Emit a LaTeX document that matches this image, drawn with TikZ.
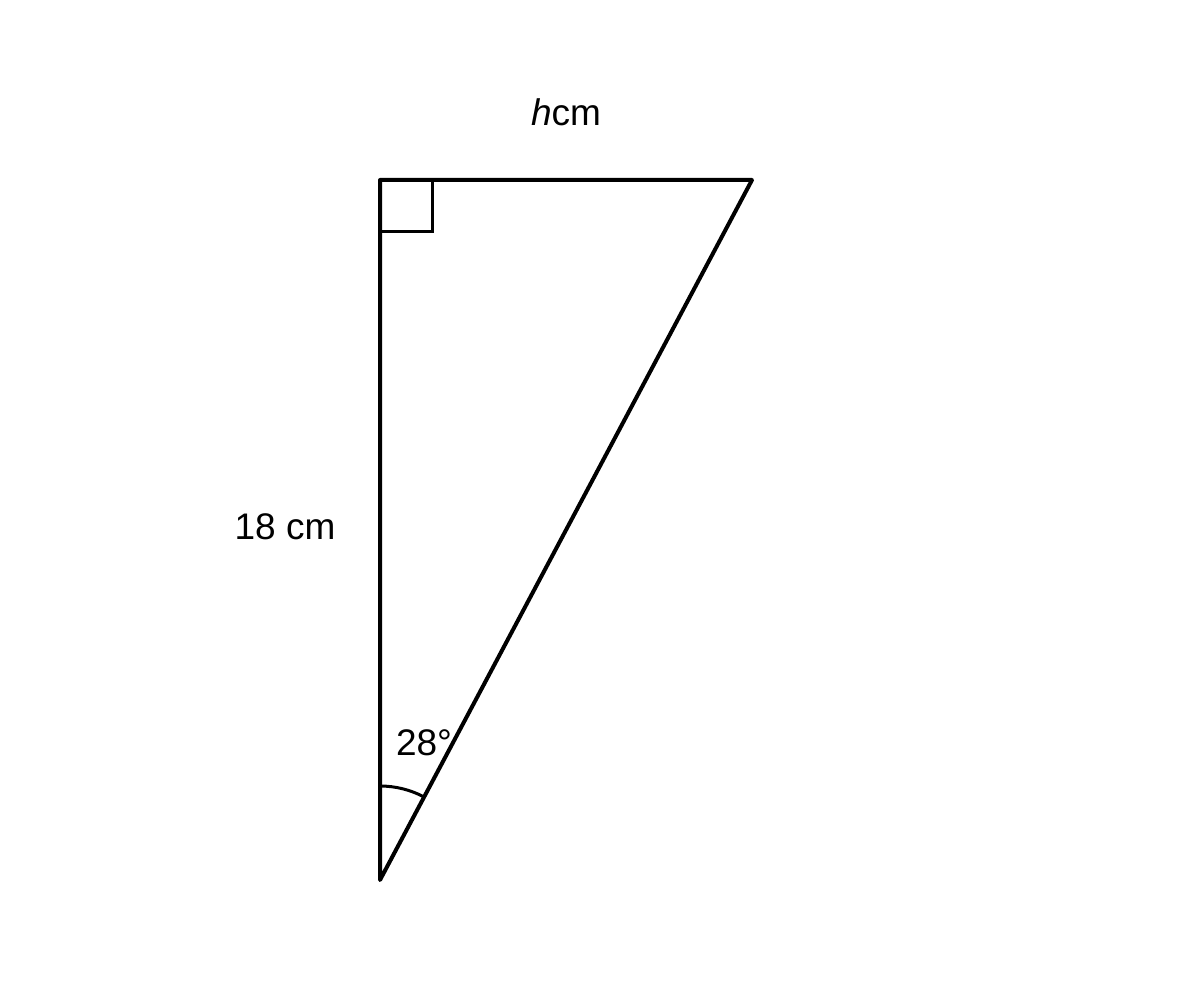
\documentclass[tikz,border=0pt]{standalone}
\usepackage{fontspec}
\setmainfont{Liberation Sans}
\usetikzlibrary{calc}
\begin{document}
\begin{tikzpicture}[x=1pt,y=-1pt,
  edge/.style={line width=4pt,line join=round,line cap=round},
  anglemark/.style={line width=3pt},
  lbl/.style={font=\fontsize{37}{42}\selectfont,inner sep=0pt}]
\useasboundingbox (0,0) rectangle (1200,1000);
\coordinate (A) at (380,180);
\coordinate (B) at (752,180);
\coordinate (C) at (380,880);
\draw[edge] (A) -- (B) -- (C) -- cycle;
\draw[anglemark] (380,232) -- (432,232) -- (432,180);
\draw[anglemark] ($(C)+(0,-94)$) arc[start angle=-90,end angle=-62,radius=94];
\node[lbl] (h) at (566,112) {\textit{h}cm};
\node[lbl] (s) at (285,527) {18 cm};
\node[lbl] (ang) at (424,743) {28°};
\end{tikzpicture}
\end{document}
